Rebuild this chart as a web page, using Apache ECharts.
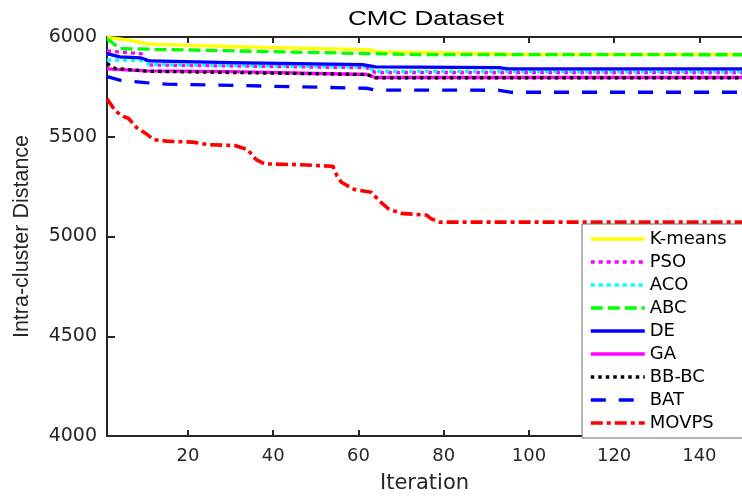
<!DOCTYPE html>
<html>
<head>
<meta charset="utf-8">
<script src="https://cdn.jsdelivr.net/npm/echarts@6/dist/echarts.min.js"></script>
<style>
  html, body { margin: 0; padding: 0; background: #fff; }
  #chart { width: 742px; height: 499px; }
</style>
</head>
<body>
<div id="chart"></div>
<script>
// Convergence curves on the CMC dataset: [iteration, intra-cluster distance]
const kmeans = [[1,5998],[4,5990],[7,5980],[11,5964],[30,5952],[62,5937],[65,5925],[93,5917],[95,5913],[150,5913]];
const pso    = [[1,5930],[9,5917],[11,5860],[62,5846],[64,5822],[150,5822]];
const aco    = [[1,5885],[9,5882],[11,5862],[62,5850],[64,5828],[150,5826]];
const abc    = [[1,5992],[2,5975],[4,5942],[22,5934],[62,5917],[74,5912],[150,5911]];
const de     = [[1,5917],[4,5900],[9,5895],[11,5880],[30,5872],[61,5862],[64,5850],[93,5846],[95,5840],[150,5840]];
const ga     = [[1,5840],[10,5830],[30,5826],[62,5812],[64,5797],[150,5797]];
const bbbc   = [[1,5867],[3,5842],[11,5828],[62,5812],[64,5795],[150,5795]];
const bat    = [[1,5801],[4,5784],[10,5771],[15,5764],[38,5754],[62,5743],[64,5734],[93,5733],[96,5723],[150,5723]];
const movps  = [[1,5690],[3,5628],[5,5600],[6,5593],[8,5545],[10,5518],[12,5485],[15,5478],[21,5473],[25,5460],[31,5456],[34,5435],[36,5385],[38,5364],[46,5360],[54,5352],[55,5302],[56,5272],[59,5236],[63,5222],[65,5177],[67,5139],[70,5116],[76,5107],[77,5090],[79,5072],[150,5072]];

const seriesNames = ['K-means','PSO','ACO','ABC','DE','GA','BB-BC','BAT','MOVPS'];
const xTicks = [20, 40, 60, 80, 100, 120, 140];

const axisColor = '#262626';
const tickFont = 'DejaVu Sans';
const sansFont = 'Liberation Sans';

function curve(name, data, color, type, width) {
  return {
    name: name,
    type: 'line',
    data: data,
    symbol: 'none',
    showSymbol: false,
    silent: true,
    lineStyle: { color: color, width: width || 3.3, type: type, cap: 'butt', join: 'round' },
    itemStyle: { color: color }
  };
}

const chart = echarts.init(document.getElementById('chart'), null, { renderer: 'canvas' });
chart.setOption({
  animation: false,
  backgroundColor: '#ffffff',
  grid: { left: 107, top: 37, width: 636, height: 400, containLabel: false },
  graphic: [{
    type: 'text',
    x: 426,
    y: 19.5,
    scaleX: 1.3,
    style: {
      text: 'CMC Dataset',
      fontFamily: sansFont,
      fontSize: 20,
      fontWeight: 'normal',
      fill: '#000000',
      textAlign: 'center',
      textVerticalAlign: 'middle'
    }
  }],
  legend: {
    orient: 'vertical',
    left: 582,
    top: 224,
    data: seriesNames,
    itemWidth: 54,
    itemHeight: 14,
    itemGap: 5,
    itemTextGap: 6,
    padding: [6, 40, 6, 7],
    backgroundColor: '#ffffff',
    borderColor: '#6e6e6e',
    borderWidth: 1,
    borderRadius: 0,
    itemStyle: { opacity: 0, borderWidth: 0 },
    lineStyle: { width: 3.5 },
    textStyle: { fontFamily: tickFont, fontSize: 18, color: '#000' }
  },
  xAxis: [{
    type: 'value',
    min: 1,
    max: 150,
    position: 'bottom',
    name: 'Iteration',
    nameLocation: 'middle',
    nameGap: 37,
    nameTextStyle: { fontFamily: tickFont, fontSize: 21, color: '#262626' },
    axisLine: { show: true, onZero: false, lineStyle: { color: axisColor, width: 2 } },
    axisTick: { show: true, inside: true, length: 6, customValues: xTicks, lineStyle: { color: axisColor, width: 2 } },
    axisLabel: { customValues: xTicks, margin: 11, fontFamily: tickFont, fontSize: 18, color: '#262626' },
    splitLine: { show: false }
  }, {
    type: 'value',
    min: 1,
    max: 150,
    position: 'top',
    axisLine: { show: true, onZero: false, lineStyle: { color: axisColor, width: 2 } },
    axisTick: { show: true, inside: true, length: 6, customValues: xTicks, lineStyle: { color: axisColor, width: 2 } },
    axisLabel: { show: false },
    splitLine: { show: false }
  }],
  yAxis: {
    type: 'value',
    min: 4000,
    max: 6000,
    interval: 500,
    name: 'Intra-cluster Distance',
    nameLocation: 'middle',
    nameGap: 74,
    nameRotate: 90,
    nameTextStyle: { fontFamily: sansFont, fontSize: 21.5, color: '#262626' },
    axisLine: { show: true, onZero: false, lineStyle: { color: axisColor, width: 2 } },
    axisTick: { show: true, inside: true, length: 8, lineStyle: { color: axisColor, width: 2 } },
    axisLabel: {
      margin: 10,
      fontFamily: tickFont,
      fontSize: 19,
      color: '#262626',
      formatter: function (v) { return String(v); }
    },
    splitLine: { show: false }
  },
  series: [
    curve('K-means', kmeans, '#ffff00', 'solid'),
    curve('PSO', pso, '#ff00ff', [4, 4]),
    curve('ACO', aco, '#00ffff', [4, 4]),
    curve('ABC', abc, '#00ff00', [12, 5]),
    curve('DE', de, '#0000ff', 'solid'),
    curve('GA', ga, '#ff00ff', 'solid'),
    curve('BB-BC', bbbc, '#000000', [3.5, 4]),
    curve('BAT', bat, '#0000ff', [15, 13]),
    curve('MOVPS', movps, '#ff0000', [12, 4, 4, 4], 3.6)
  ]
});
</script>
</body>
</html>
